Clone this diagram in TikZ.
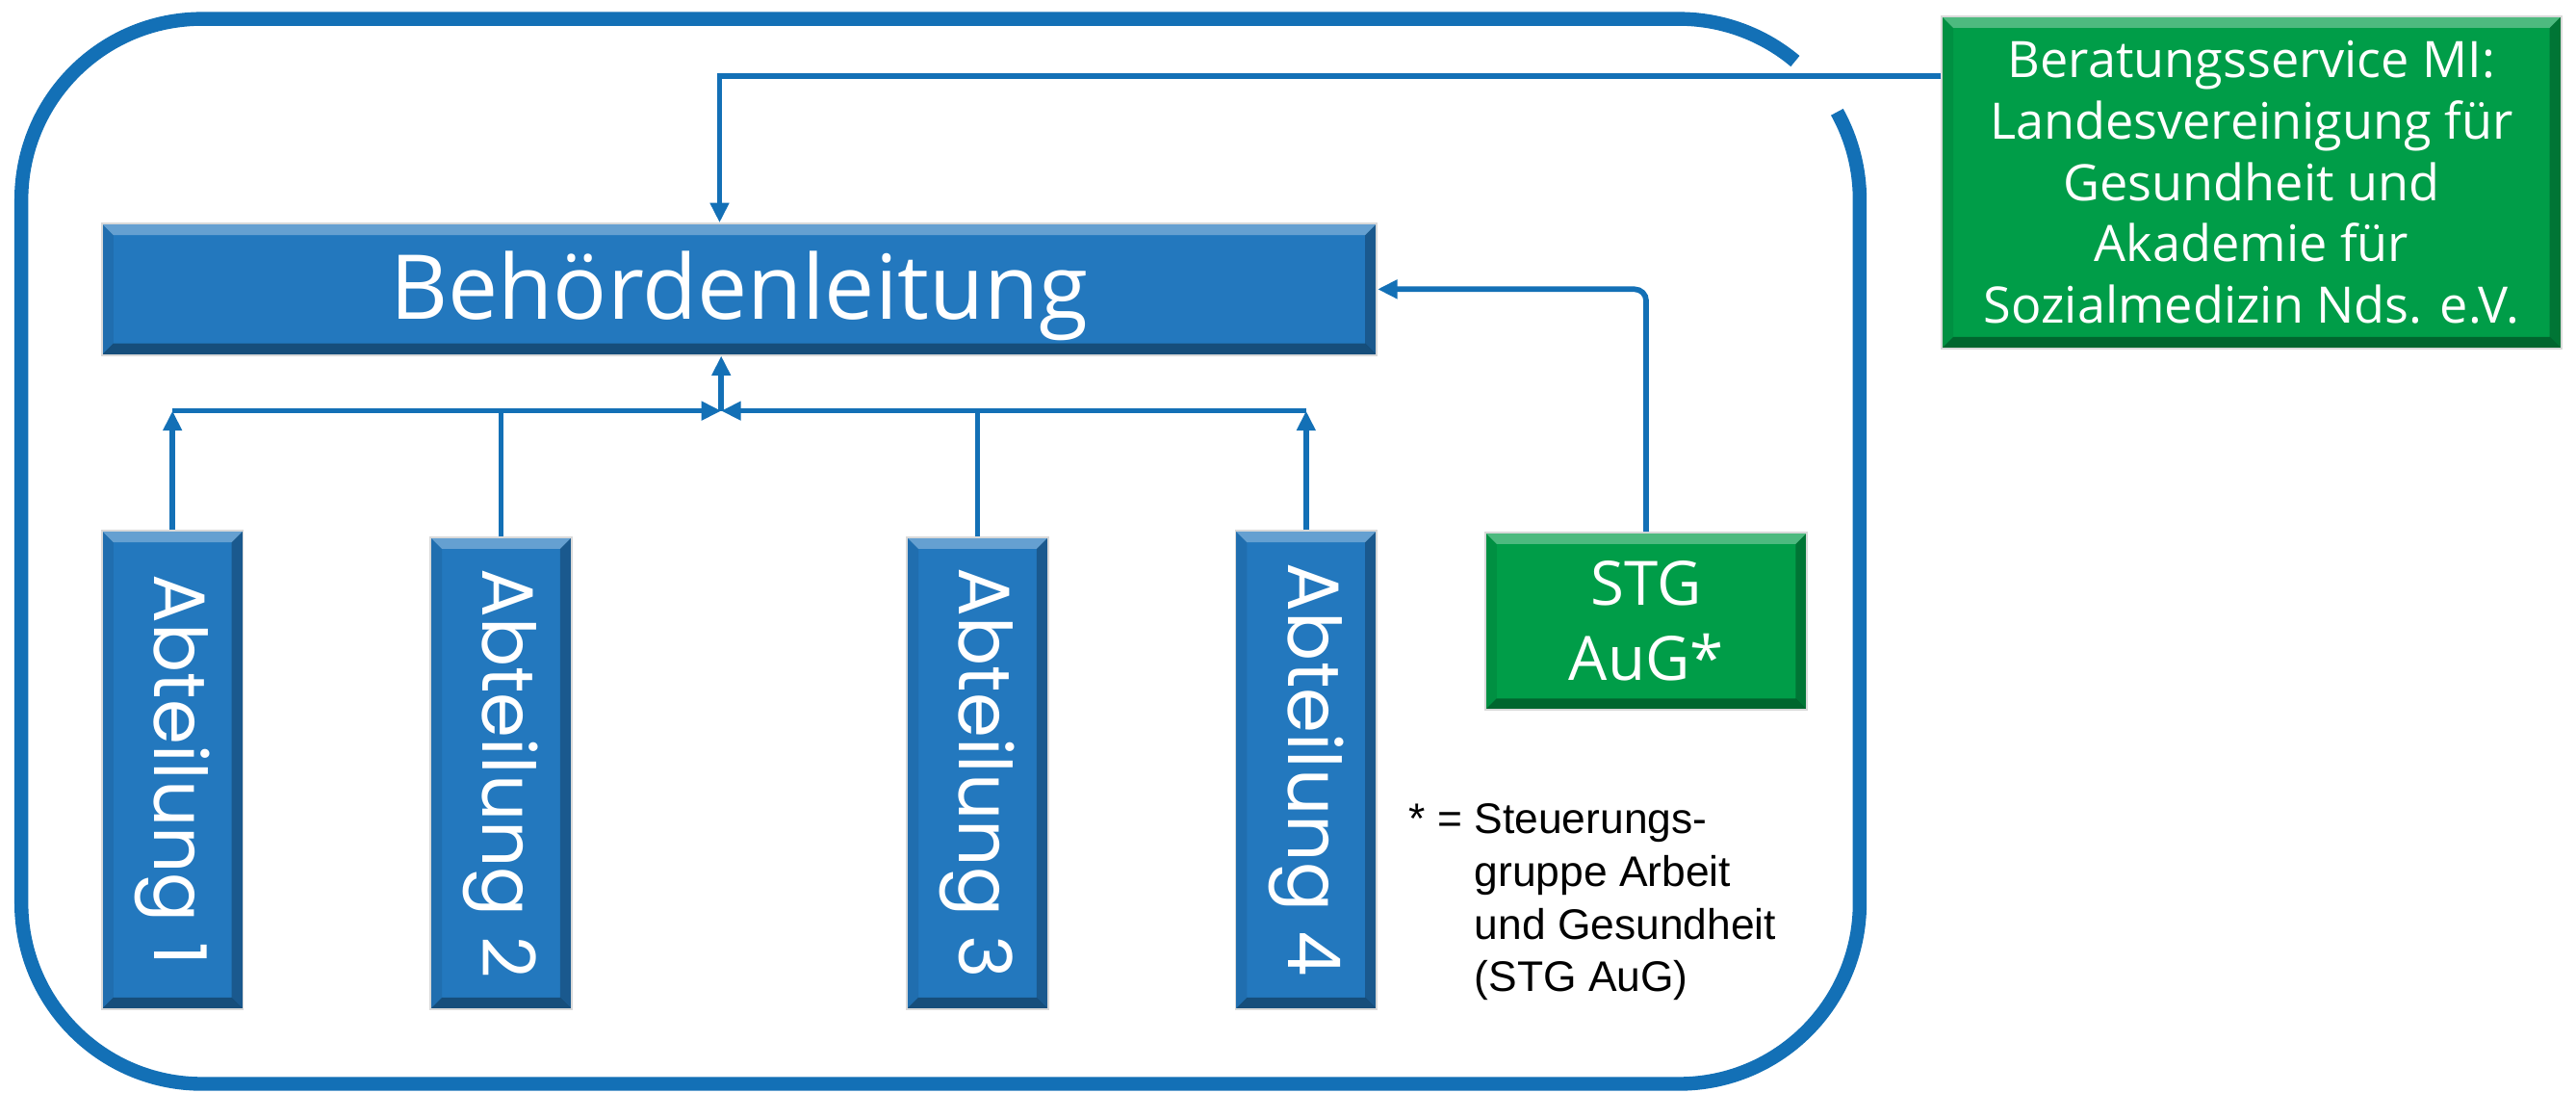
\documentclass[tikz,border=0pt]{standalone}
\usepackage{fontspec}
\setmainfont{Open Sans}
\newfontfamily\notefont{Liberation Sans}
\newfontfamily\abtfont{Poppins}
\usepackage{xcolor}
\usetikzlibrary{arrows.meta,calc}

\definecolor{lineblue}{RGB}{19,112,182}
\definecolor{boxblue}{RGB}{35,120,190}
\definecolor{boxgreen}{RGB}{0,157,72}

\begin{document}
\begin{tikzpicture}[
    bevel/.style={path picture={
      \fill[white, opacity=0.3] (path picture bounding box.north west) -- (path picture bounding box.north east)
        -- ([shift={(-0.07,-0.07)}]path picture bounding box.north east) -- ([shift={(0.07,-0.07)}]path picture bounding box.north west) -- cycle;
      \fill[black, opacity=0.35] (path picture bounding box.south west) -- (path picture bounding box.south east)
        -- ([shift={(-0.07,0.07)}]path picture bounding box.south east) -- ([shift={(0.07,0.07)}]path picture bounding box.south west) -- cycle;
      \fill[black, opacity=0.25] (path picture bounding box.north east) -- (path picture bounding box.south east)
        -- ([shift={(-0.07,0.07)}]path picture bounding box.south east) -- ([shift={(-0.07,-0.07)}]path picture bounding box.north east) -- cycle;
      \fill[black, opacity=0.08] (path picture bounding box.north west) -- (path picture bounding box.south west)
        -- ([shift={(0.07,0.07)}]path picture bounding box.south west) -- ([shift={(0.07,-0.07)}]path picture bounding box.north west) -- cycle;
    }},
    box/.style={rectangle, fill=boxblue, draw=black!15, line width=0.3pt, text=white, inner sep=0pt, align=center, bevel},
    gbox/.style={box, fill=boxgreen},
    abt/.style={box, minimum width=0.86cm, font=\abtfont\fontsize{12.6}{15}\selectfont},
    conn/.style={draw=lineblue, line width=0.95pt},
    arr/.style={conn, -{Triangle[length=1.2mm, width=1.1mm]}},
    frame/.style={draw=lineblue, line width=2.4pt},
    note/.style={font=\notefont\fontsize{7.4}{9.1}\selectfont, align=left, inner sep=0pt},
  ]

  \path[fill=white] (0,0) rectangle (15.68,6.645);

  % Frame (open where the line from the right comes in)
  \draw[frame] (10.22,5.43) ++(50:1.1) arc[start angle=50, end angle=90, radius=1.1]
    -- (1.23,6.53) arc[start angle=90, end angle=180, radius=1.1]
    -- (0.13,1.15) arc[start angle=180, end angle=270, radius=1.1]
    -- (10.22,0.05) arc[start angle=270, end angle=360, radius=1.1]
    -- (11.32,5.43) arc[start angle=0, end angle=29, radius=1.1];

  % Leitung
  \node[box, minimum width=7.76cm, minimum height=0.8cm, text depth=0.05cm, font=\fontsize{15.5}{18}\selectfont] (leit) at (4.50, 4.885) {Behördenleitung};

  % Beratung
  \node[gbox, minimum width=3.77cm, minimum height=2.02cm, font=\fontsize{8.7}{10.63}\selectfont] (berat) at (13.705, 5.535)
    {Beratungsservice MI:\\Landesvereinigung für\\Gesundheit und\\Akademie für\\Sozialmedizin Nds. e.V.};

  % Steuerungsgruppe
  \node[gbox, minimum width=1.96cm, minimum height=1.08cm, font=\fontsize{10.6}{13}\selectfont] (stg) at (10.02, 2.865) {STG\\AuG*};

  % Abteilungen
  \node[abt, minimum height=2.91cm] (abt1) at (1.05, 1.96) {\rotatebox{-90}{Abteilung 1}};
  \node[abt, minimum height=2.87cm] (abt2) at (3.05, 1.94) {\rotatebox{-90}{Abteilung 2}};
  \node[abt, minimum height=2.87cm] (abt3) at (5.95, 1.94) {\rotatebox{-90}{Abteilung 3}};
  \node[abt, minimum height=2.91cm] (abt4) at (7.95, 1.96) {\rotatebox{-90}{Abteilung 4}};

  % Footnote
  \node[note, anchor=north west] (note) at (8.57, 1.76)
    {* = Steuerungs-\\\hphantom{* = }gruppe Arbeit\\\hphantom{* = }und Gesundheit\\\hphantom{* = }(STG AuG)};

  % Arrows
  \coordinate (junc) at (4.39, 4.145);
  \coordinate (feed) at (4.38, 6.18);

  \draw[arr] (berat.west |- feed) -- (feed) -- (feed |- leit.north);
  \draw[arr, rounded corners=2pt] (stg.north) |- (leit.east);

  \draw[arr] (abt1.north) -- (abt1.north |- junc);
  \draw[arr] (abt1.north |- junc) -- (junc);
  \draw[conn] (abt2.north) -- (abt2.north |- junc);
  \draw[conn] (abt3.north) -- (abt3.north |- junc);
  \draw[arr] (abt4.north) -- (abt4.north |- junc);
  \draw[arr] (abt4.north |- junc) -- (junc);
  \draw[arr] (junc) -- (junc |- leit.south);

\end{tikzpicture}
\end{document}
